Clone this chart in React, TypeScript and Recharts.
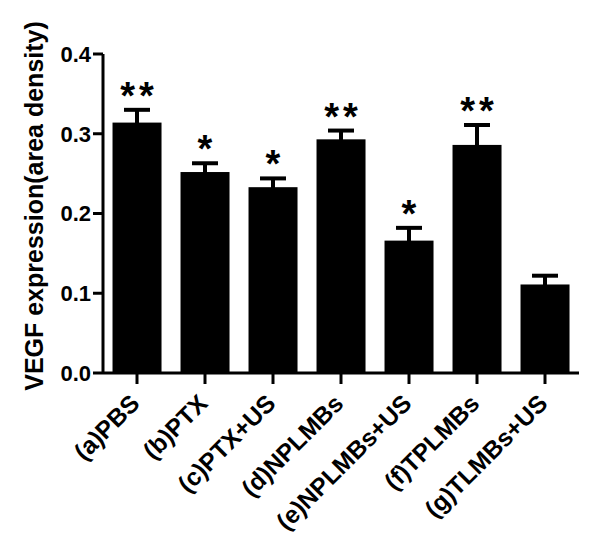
import React from 'react';
import { Bar, BarChart, ErrorBar, XAxis, YAxis } from 'recharts';

const groups = ['(a)PBS', '(b)PTX', '(c)PTX+US', '(d)NPLMBs', '(e)NPLMBs+US', '(f)TPLMBs', '(g)TLMBs+US'];
const vegfMean = [0.314, 0.252, 0.233, 0.293, 0.166, 0.286, 0.111];
const vegfSem = [0.016, 0.011, 0.011, 0.011, 0.016, 0.025, 0.011];
const marks = ['**', '*', '*', '**', '*', '**', ''];
const yTicks = [0, 0.1, 0.2, 0.3, 0.4];

const FONT = '"Liberation Sans", Arial, sans-serif';

const data = groups.map((name, i) => ({
  name,
  mean: vegfMean[i],
  sem: vegfSem[i],
  mark: marks[i]
}));

function BarWithMark(props: any) {
  const { x, y, width, height, payload } = props;
  // top of the error cap, using the bar's own pixels-per-unit
  const capY = y - (payload.sem / payload.mean) * height;
  return (
    <g>
      <rect x={x} y={y} width={width} height={height} fill="#000" />
      {payload.mark ? (
        <text
          x={x + width / 2 + 2}
          y={capY - 1}
          textAnchor="middle"
          fontFamily={FONT}
          fontWeight="bold"
          fontSize={38}
          letterSpacing={4}
          fill="#000"
        >
          {payload.mark}
        </text>
      ) : null}
    </g>
  );
}

function GroupTick({ x, y, payload }: any) {
  return (
    <text
      transform={`translate(${x + 4},${y + 19}) rotate(-45)`}
      textAnchor="end"
      fontFamily={FONT}
      fontWeight="bold"
      fontSize={24.5}
      fill="#000"
    >
      {payload.value}
    </text>
  );
}

function YTitle() {
  return (
    <text
      transform="translate(43,206) rotate(-90)"
      textAnchor="middle"
      fontFamily={FONT}
      fontWeight="bold"
      fontSize={25}
      fill="#000"
    >
      VEGF expression(area density)
    </text>
  );
}

export default function App() {
  return (
    <div style={{ position: 'absolute', left: 0, top: 0, background: '#fff' }}>
      <BarChart
        width={601}
        height={545}
        data={data}
        margin={{ top: 54, right: 22, bottom: 72, left: 43 }}
        barCategoryGap="14%"
      >
        <XAxis
          dataKey="name"
          height={100}
          interval={0}
          tick={<GroupTick />}
          tickSize={11}
          axisLine={{ stroke: '#000', strokeWidth: 3 }}
          tickLine={{ stroke: '#000', strokeWidth: 3 }}
        />
        <YAxis
          width={60}
          domain={[0, 0.4]}
          ticks={yTicks}
          tickFormatter={(v: number) => v.toFixed(1)}
          tickSize={10}
          tickMargin={2}
          tick={{ fill: '#000', fontFamily: FONT, fontWeight: 'bold', fontSize: 22 }}
          axisLine={{ stroke: '#000', strokeWidth: 3 }}
          tickLine={{ stroke: '#000', strokeWidth: 3 }}
          label={<YTitle />}
        />
        <Bar dataKey="mean" fill="#000" shape={<BarWithMark />} isAnimationActive={false}>
          <ErrorBar dataKey="sem" width={13} strokeWidth={4} stroke="#000" direction="y" />
        </Bar>
      </BarChart>
    </div>
  );
}
